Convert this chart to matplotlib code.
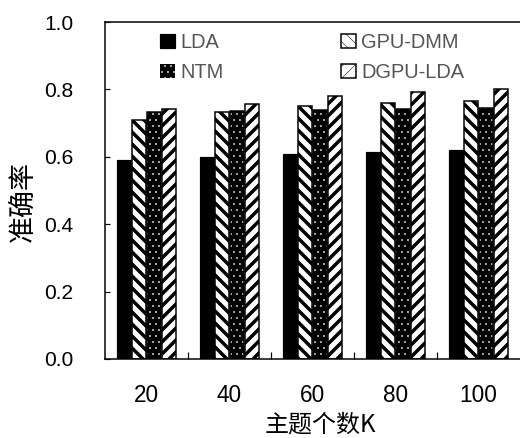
import numpy as np
import matplotlib
matplotlib.use("Agg")
import matplotlib.pyplot as plt
from matplotlib.patches import Patch

categories = ["20", "40", "60", "80", "100"]
series_names = ["LDA", "GPU-DMM", "NTM", "DGPU-LDA"]
lda = [0.591, 0.600, 0.607, 0.614, 0.621]
gpu_dmm = [0.708, 0.733, 0.752, 0.761, 0.767]
ntm = [0.732, 0.737, 0.738, 0.743, 0.745]
dgpu_lda = [0.743, 0.758, 0.779, 0.791, 0.801]
yticks = [0.0, 0.2, 0.4, 0.6, 0.8, 1.0]

plt.rcParams['font.family'] = ['Liberation Sans', 'Noto Sans CJK SC', 'DejaVu Sans']

STRIPE_LW = 3.5
DOT_LW = 0.5
H_BACK = '\\\\'
H_FWD = '//'
H_DOT = '..'


def set_hlw(artists, lw):
    for a in artists:
        if hasattr(a, 'set_hatch_linewidth'):
            a.set_hatch_linewidth(lw)


DPI = 72
fig = plt.figure(figsize=(520 / DPI, 438 / DPI), dpi=DPI)
ax = fig.add_axes([105 / 520, (438 - 359) / 438, 1 - 105 / 520, (359 - 22) / 438])

x = np.arange(len(categories))
slot = 0.18
bw = 0.163
offs = np.array([-1.5, -0.5, 0.5, 1.5]) * slot

plt.rcParams['hatch.linewidth'] = STRIPE_LW
ax.bar(x + offs[0], lda, bw, color='black', edgecolor='black', linewidth=1.2)
b1 = ax.bar(x + offs[1], gpu_dmm, bw, color='white', edgecolor='black', hatch=H_BACK, linewidth=1.5)
b3 = ax.bar(x + offs[3], dgpu_lda, bw, color='white', edgecolor='black', hatch=H_FWD, linewidth=1.5)
set_hlw(list(b1) + list(b3), STRIPE_LW)
plt.rcParams['hatch.linewidth'] = DOT_LW
b2 = ax.bar(x + offs[2], ntm, bw, color='black', edgecolor='white', hatch=H_DOT, linewidth=0)
set_hlw(list(b2), DOT_LW)
ax.bar(x + offs[2], ntm, bw, fill=False, edgecolor='black', linewidth=1.5)

ax.set_xlim(-0.5, len(categories) - 0.5)
ax.set_ylim(0, 1.0)
ax.set_yticks(yticks)
ax.set_yticklabels([f"{v:.1f}" for v in yticks])
ax.set_xticks(x)
ax.set_xticklabels(categories)
ax.set_xticks(x[:-1] + 0.5, minor=True)
ax.tick_params(axis='y', direction='in', length=5, width=1.2, pad=32, labelsize=21)
ax.tick_params(axis='x', which='major', length=0, pad=25, labelsize=22.5)
ax.tick_params(axis='x', which='minor', direction='in', length=7, width=1.2)
for s in ax.spines.values():
    s.set_linewidth(1.5)
ax.spines['right'].set_visible(False)

ax.set_ylabel("准确率", fontsize=27, family=['Noto Sans CJK SC'])
ax.yaxis.set_label_coords(-0.164, 0.466)
ax.set_xlabel("主题个数K", fontsize=24, family=['Noto Sans CJK SC', 'Liberation Sans'])
ax.xaxis.set_label_coords(0.518, -0.157)

plt.rcParams['hatch.linewidth'] = STRIPE_LW
h_lda = Patch(facecolor='black', edgecolor='black', linewidth=1.2)
h_gpu = Patch(facecolor='white', edgecolor='black', hatch=H_BACK, linewidth=1.5)
h_dgpu = Patch(facecolor='white', edgecolor='black', hatch=H_FWD, linewidth=1.5)
set_hlw([h_gpu, h_dgpu], STRIPE_LW)
plt.rcParams['hatch.linewidth'] = DOT_LW
h_ntm = Patch(facecolor='black', edgecolor='white', hatch=H_DOT, linewidth=0)
set_hlw([h_ntm], DOT_LW)

handles = [h_lda, h_ntm, h_gpu, h_dgpu]
labels = [series_names[0], series_names[2], series_names[1], series_names[3]]
leg = ax.legend(handles, labels, ncol=2, frameon=False, fontsize=20,
                loc='upper left', bbox_to_anchor=((160 - 105) / 415, 0.967),
                borderaxespad=0, borderpad=0,
                handlelength=0.75, handleheight=0.75, handletextpad=0.28,
                columnspacing=5.85, labelspacing=0.55)
for t in leg.get_texts():
    t.set_color('#555555')

fig.savefig("out.png", dpi=DPI)
